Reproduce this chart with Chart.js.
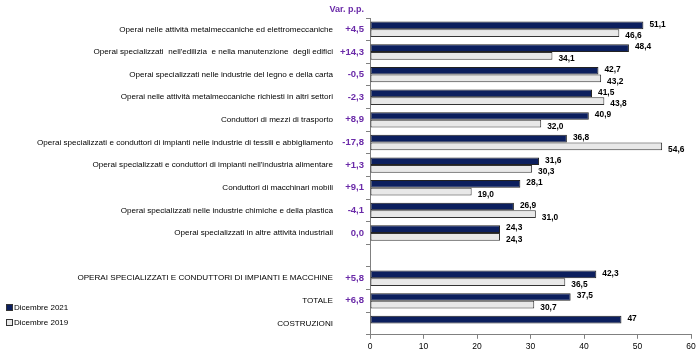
<!DOCTYPE html>
<html><head><meta charset="utf-8">
<script src="https://cdn.jsdelivr.net/npm/chart.js@4.4.1/dist/chart.umd.min.js"></script>
<style>html,body{margin:0;padding:0;background:#fff}#wrap{width:700px;height:355px}</style>
</head><body><div id="wrap"><canvas id="c" width="700" height="355"></canvas></div>
<script>
const categories = [
  "Operai nelle attività metalmeccaniche ed elettromeccaniche",
  "Operai specializzati  nell'edilizia  e nella manutenzione  degli edifici",
  "Operai specializzati nelle industrie del legno e della carta",
  "Operai nelle attività metalmeccaniche richiesti in altri settori",
  "Conduttori di mezzi di trasporto",
  "Operai specializzati e conduttori di impianti nelle industrie di tessili e abbigliamento",
  "Operai specializzati e conduttori di impianti nell'industria alimentare",
  "Conduttori di macchinari mobili",
  "Operai specializzati nelle industrie chimiche e della plastica",
  "Operai specializzati in altre attività industriali",
  "",
  "OPERAI SPECIALIZZATI E CONDUTTORI DI IMPIANTI E MACCHINE",
  "TOTALE",
  "COSTRUZIONI"
];
const dic2021 = [51.1, 48.4, 42.7, 41.5, 40.9, 36.8, 31.6, 28.1, 26.9, 24.3, null, 42.3, 37.5, 47];
const dic2019 = [46.6, 34.1, 43.2, 43.8, 32.0, 54.6, 30.3, 19.0, 31.0, 24.3, null, 36.5, 30.7, null];
const decimals2021 = [1,1,1,1,1,1,1,1,1,1,1,1,1,0];
const varPP = ["+4,5","+14,3","-0,5","-2,3","+8,9","-17,8","+1,3","+9,1","-4,1","0,0","","+5,8","+6,8",""];
const xTicks = [0,10,20,30,40,50,60];
const seriesNames = ["Dicembre 2021","Dicembre 2019"];

const DARK = '#0c1f5e', LIGHT = '#e8e8e8', PURPLE = '#6a2aa8';
const fmt = (v, d) => v.toFixed(d).replace('.', ',');

const drawPlugin = {
  id: 'customText',
  afterDatasetsDraw(chart) {
    const ctx = chart.ctx, y = chart.scales.y;
    ctx.save();
    ctx.textBaseline = 'middle';
    ctx.fillStyle = PURPLE; ctx.textAlign = 'right';
    ctx.font = "bold 9px 'Liberation Sans', Arial, sans-serif";
    ctx.fillText('Var. p.p.', 364, 10);
    categories.forEach((c, i) => {
      const py = y.getPixelForValue(i);
      ctx.fillStyle = '#000'; ctx.textAlign = 'right';
      ctx.font = "8.1px 'Liberation Sans', Arial, sans-serif";
      ctx.fillText(c, 333, py);
      ctx.fillStyle = PURPLE;
      ctx.font = "bold 9.5px 'Liberation Sans', Arial, sans-serif";
      ctx.fillText(varPP[i], 364, py);
    });
    ctx.fillStyle = '#000'; ctx.textAlign = 'left';
    ctx.font = "bold 8.4px 'Liberation Sans', Arial, sans-serif";
    chart.data.datasets.forEach((ds, di) => {
      const meta = chart.getDatasetMeta(di);
      meta.data.forEach((bar, i) => {
        const v = ds.data[i];
        if (v === null || v === undefined) return;
        const txt = di === 0 ? fmt(v, decimals2021[i]) : fmt(v, 1);
        ctx.fillText(txt, bar.x + 6, bar.y + (di === 0 ? -1 : 3));
      });
    });
    const items = [[DARK, seriesNames[0], 308], [LIGHT, seriesNames[1], 323]];
    ctx.font = "8px 'Liberation Sans', Arial, sans-serif";
    items.forEach(([col, name, ly]) => {
      ctx.fillStyle = col; ctx.fillRect(6.5, ly - 3.5, 6, 6);
      ctx.strokeStyle = '#333'; ctx.lineWidth = 1; ctx.strokeRect(6.5, ly - 3.5, 6, 6);
      ctx.fillStyle = '#000'; ctx.fillText(name, 14, ly);
    });
    ctx.restore();
  }
};

new Chart(document.getElementById('c'), {
  type: 'bar',
  data: {
    labels: categories,
    datasets: [
      { label: seriesNames[0], data: dic2021, backgroundColor: DARK, borderColor: '#222', borderWidth: 1, borderSkipped: false, categoryPercentage: 0.68, barPercentage: 1 },
      { label: seriesNames[1], data: dic2019, backgroundColor: LIGHT, borderColor: '#333', borderWidth: 1, borderSkipped: false, categoryPercentage: 0.68, barPercentage: 1 }
    ]
  },
  options: {
    indexAxis: 'y',
    responsive: false,
    animation: false,
    devicePixelRatio: 1,
    layout: { padding: { top: 18, right: 9, bottom: 0, left: 0 } },
    plugins: { legend: { display: false }, tooltip: { enabled: false } },
    scales: {
      x: {
        min: 0, max: 60,
        afterBuildTicks(s) { s.ticks = xTicks.map(v => ({ value: v })); },
        grid: { drawOnChartArea: false, drawTicks: true, tickLength: 4, color: '#808080' },
        border: { color: '#808080', width: 1 },
        ticks: { font: { family: "'Liberation Sans', Arial, sans-serif", size: 8.5 }, color: '#000', padding: 3, maxRotation: 0 }
      },
      y: {
        afterFit(s) { s.width = 370; },
        grid: { drawOnChartArea: false, drawTicks: true, tickLength: 4, color: '#808080', offset: true },
        border: { color: '#808080', width: 1 },
        ticks: { display: false }
      }
    }
  },
  plugins: [drawPlugin]
});
</script>
</body></html>
